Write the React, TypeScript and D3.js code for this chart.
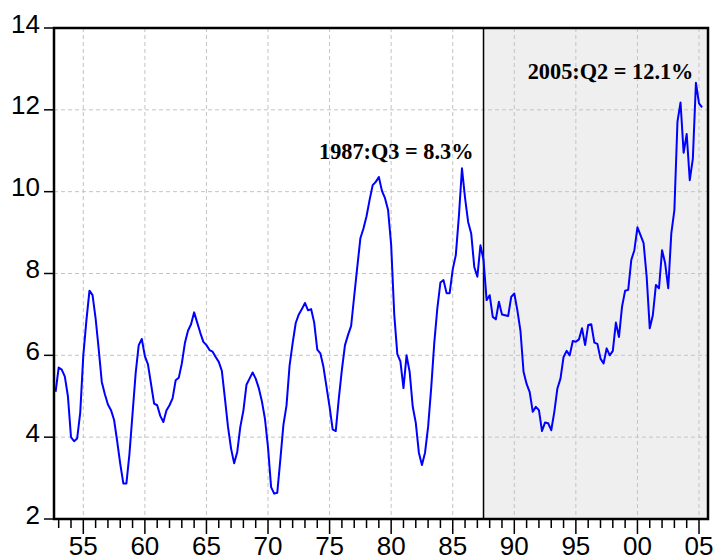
import React from "react";
import * as d3 from "d3";

// Quarterly series, starting 1952:Q4, ending 2005:Q2 (percent)
const startYear = 1952;
const startQuarter = 4;
const ratio: number[] = [
  5.11, 5.70, 5.65, 5.48, 5.00, 4.00, 3.90, 3.97, 4.60, 6.00,
  6.85, 7.58, 7.47, 6.90, 6.15, 5.35, 5.05, 4.80, 4.66, 4.42,
  3.90, 3.35, 2.87, 2.87, 3.60, 4.58, 5.56, 6.25, 6.40, 5.98,
  5.78, 5.30, 4.82, 4.78, 4.52, 4.37, 4.65, 4.78, 4.95, 5.39,
  5.45, 5.80, 6.30, 6.60, 6.76, 7.05, 6.80, 6.55, 6.33, 6.25,
  6.13, 6.09, 5.96, 5.84, 5.62, 4.95, 4.25, 3.72, 3.36, 3.64,
  4.25, 4.65, 5.28, 5.43, 5.58, 5.43, 5.20, 4.88, 4.45, 3.75,
  2.78, 2.62, 2.64, 3.45, 4.30, 4.77, 5.75, 6.30, 6.79, 7.00,
  7.13, 7.28, 7.10, 7.13, 6.80, 6.14, 6.05, 5.72, 5.23, 4.74,
  4.19, 4.15, 4.95, 5.65, 6.25, 6.50, 6.72, 7.45, 8.16, 8.86,
  9.10, 9.40, 9.80, 10.16, 10.24, 10.36, 10.02, 9.84, 9.55, 8.70,
  7.00, 6.03, 5.85, 5.20, 6.00, 5.60, 4.75, 4.35, 3.62, 3.32,
  3.62, 4.25, 5.20, 6.30, 7.15, 7.78, 7.84, 7.52, 7.52, 8.10,
  8.45, 9.40, 10.57, 9.85, 9.26, 8.98, 8.16, 7.92, 8.69, 8.33,
  7.35, 7.47, 6.94, 6.88, 7.31, 7.00, 6.98, 6.96, 7.43, 7.51,
  7.10, 6.60, 5.60, 5.30, 5.10, 4.62, 4.74, 4.66, 4.15, 4.36,
  4.34, 4.17, 4.62, 5.19, 5.43, 5.96, 6.11, 6.00, 6.35, 6.33,
  6.39, 6.66, 6.25, 6.74, 6.76, 6.31, 6.28, 5.92, 5.80, 6.17,
  6.00, 6.11, 6.80, 6.45, 7.19, 7.58, 7.60, 8.33, 8.57, 9.13,
  8.94, 8.74, 7.92, 6.66, 6.98, 7.72, 7.64, 8.57, 8.25, 7.64,
  8.98, 9.55, 11.71, 12.18, 10.95, 11.41, 10.28, 10.81, 12.66, 12.16,
  12.06,
];

const yTicks = [2, 4, 6, 8, 10, 12, 14];
const yGrid = [4, 6, 8, 10, 12];
const xMajorYears = [1955, 1960, 1965, 1970, 1975, 1980, 1985, 1990, 1995, 2000, 2005];
const xMajorLabels = ["55", "60", "65", "70", "75", "80", "85", "90", "95", "00", "05"];
const shadeStart = 1987.5;
const annotations = [
  { text: "1987:Q3 = 8.3%", year: 1974.14, value: 10.79 },
  { text: "2005:Q2 = 12.1%", year: 1991.09, value: 12.75 },
];

const W = 716;
const H = 559;
const left = 54, right = 708, top = 28, bottom = 519;

export default function App() {
  const x = d3.scaleLinear().domain([1952.62, 2005.73]).range([left, right]);
  const y = d3.scaleLinear().domain([2, 14]).range([bottom, top]);

  const pts = ratio.map((v, i) => {
    const t = startYear + (startQuarter - 1) / 4 + i / 4;
    return [t, v] as [number, number];
  });
  const line = d3
    .line<[number, number]>()
    .x((d) => x(d[0]))
    .y((d) => y(d[1]));

  const minorYears = d3.range(1953, 2006);
  const grid = "#c4c4c4";

  return (
    <svg
      width={W}
      height={H}
      style={{ position: "absolute", left: 0, top: 0, background: "#fff" }}
    >
      <rect x={x(shadeStart)} y={top} width={right - x(shadeStart)} height={bottom - top} fill="#efefef" />
      {yGrid.map((v) => (
        <line key={"gy" + v} x1={left} x2={right} y1={y(v)} y2={y(v)} stroke={grid} strokeWidth={1} strokeDasharray="4,3" />
      ))}
      {xMajorYears.map((yr) => (
        <line key={"gx" + yr} x1={x(yr)} x2={x(yr)} y1={top} y2={bottom} stroke={grid} strokeWidth={1} strokeDasharray="4,3" />
      ))}
      <line x1={x(shadeStart)} x2={x(shadeStart)} y1={top} y2={bottom} stroke="#000" strokeWidth={1.5} />
      <path d={line(pts) || ""} fill="none" stroke="#0000ff" strokeWidth={2} strokeLinejoin="round" />
      <rect x={left} y={top} width={right - left} height={bottom - top} fill="none" stroke="#000" strokeWidth={2.5} />
      {yTicks.map((v) => (
        <g key={"yt" + v}>
          <line x1={left - 10} x2={left} y1={y(v)} y2={y(v)} stroke="#000" strokeWidth={1.5} />
          <text x={40} y={y(v) + 4.5} textAnchor="end" fontFamily="'Liberation Sans', Arial, sans-serif" fontSize={26} fill="#000">
            {v}
          </text>
        </g>
      ))}
      {minorYears.map((yr) => {
        const major = yr % 5 === 0;
        return (
          <line key={"xt" + yr} x1={x(yr)} x2={x(yr)} y1={bottom} y2={bottom + (major ? 15 : 9)} stroke="#000" strokeWidth={1.5} />
        );
      })}
      {xMajorYears.map((yr, i) => (
        <text key={"xl" + yr} x={x(yr)} y={555} textAnchor="middle" fontFamily="'Liberation Sans', Arial, sans-serif" fontSize={26} fill="#000">
          {xMajorLabels[i]}
        </text>
      ))}
      {annotations.map((a) => (
        <text key={a.text} x={x(a.year)} y={y(a.value)} fontFamily="'Liberation Serif', 'Times New Roman', serif" fontWeight="bold" fontSize={22.3} fill="#000">
          {a.text}
        </text>
      ))}
    </svg>
  );
}
